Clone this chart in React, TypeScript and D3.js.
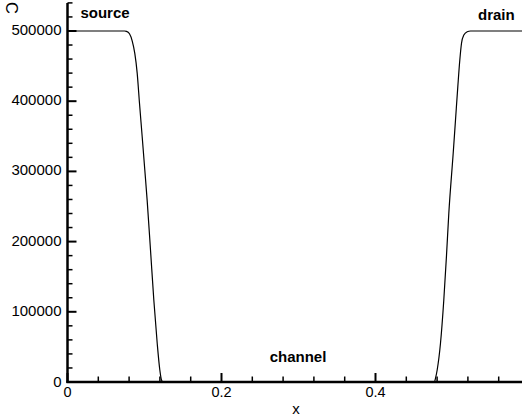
import React from "react";
import * as d3 from "d3";

const xValues = [
  0, 0.074, 0.0766, 0.0805, 0.084, 0.0874, 0.0905, 0.0935, 0.097, 0.1004, 0.1035,
  0.1078, 0.1121, 0.1165, 0.1199, 0.1221, 0.124,
  0.3, 0.475,
  0.4766, 0.4779, 0.4801, 0.4844, 0.4887, 0.4922, 0.4952, 0.5009, 0.5039, 0.5069,
  0.5095, 0.5117, 0.5147, 0.5191, 0.5234, 0.6,
];
const cValues = [
  500000, 500000, 499500, 496000, 486000, 468000, 440000, 397000, 349400, 302000, 258000,
  188000, 116800, 55100, 17100, 2800, 0,
  0, 0,
  400, 5300, 17100, 55100, 116800, 180000, 240000, 325800, 373200, 420700,
  458700, 482500, 494300, 499000, 500000, 500000,
];

const xMajorTicks = [0, 0.2, 0.4, 0.6];
const xTickLabels = ["0", "0.2", "0.4", ""];
const yMajorTicks = [0, 100000, 200000, 300000, 400000, 500000];
const yTickLabels = ["0", "100000", "200000", "300000", "400000", "500000"];

const regionLabels = ["source", "channel", "drain"];
const regionX = [0.0487, 0.2994, 0.557];
const regionC = [519000, 28000, 515000];

const W = 522;
const H = 416;
const FONT = "'Liberation Sans', Arial, Helvetica, sans-serif";

export default function App() {
  const x = d3.scaleLinear().domain([0, 0.6]).range([67.5, 529.5]);
  const y = d3.scaleLinear().domain([0, 540000]).range([382, 2.9]);

  const line = d3
    .line<number>()
    .x((_, i) => x(xValues[i]))
    .y((d) => y(d))
    .curve(d3.curveMonotoneX);

  const xMinor = d3.range(0, 0.6001, 0.04).filter(
    (v) => !xMajorTicks.some((m) => Math.abs(m - v) < 1e-6)
  );
  const yMinor = d3.range(0, 540001, 20000).filter((v) => v % 100000 !== 0);

  const x0 = x(0);
  const y0 = y(0);

  return (
    <svg
      width={W}
      height={H}
      style={{ position: "absolute", left: 0, top: 0, background: "#fff" }}
      fontFamily={FONT}
    >
      <rect x={0} y={0} width={W} height={H} fill="#fff" />
      {/* curve */}
      <path d={line(cValues) || ""} fill="none" stroke="#000" strokeWidth={1.2} />

      {/* y axis */}
      <line x1={x0} x2={x0} y1={y0 + 1} y2={y(540000)} stroke="#000" strokeWidth={2.5} />
      {yMajorTicks.map((v) => (
        <line key={"ym" + v} x1={x0} x2={x0 + 9} y1={y(v)} y2={y(v)} stroke="#000" strokeWidth={2} />
      ))}
      {yMinor.map((v) => (
        <line key={"yn" + v} x1={x0} x2={x0 + 5} y1={y(v)} y2={y(v)} stroke="#000" strokeWidth={1.5} />
      ))}
      {yMajorTicks.map((v, i) => (
        <text
          key={"yl" + v}
          x={x0 - 6}
          y={y(v) + (v === 0 ? 1 : 0)}
          textAnchor="end"
          dominantBaseline="middle"
          fontSize={15}
          fill="#000"
        >
          {yTickLabels[i]}
        </text>
      ))}

      {/* x axis */}
      <line x1={x0 - 1} x2={W} y1={y0} y2={y0} stroke="#000" strokeWidth={2.5} />
      {xMajorTicks.map((v) => (
        <line key={"xm" + v} x1={x(v)} x2={x(v)} y1={y0} y2={y0 - 9} stroke="#000" strokeWidth={2} />
      ))}
      {xMinor.map((v) => (
        <line key={"xn" + v} x1={x(v)} x2={x(v)} y1={y0} y2={y0 - 5.5} stroke="#000" strokeWidth={1.5} />
      ))}
      {xMajorTicks.map((v, i) =>
        xTickLabels[i] ? (
          <text key={"xl" + v} x={x(v)} y={y0 + 15} textAnchor="middle" fontSize={14.5} fill="#000">
            {xTickLabels[i]}
          </text>
        ) : null
      )}

      {/* axis titles */}
      <text x={296} y={414} textAnchor="middle" fontSize={15} fill="#000">
        x
      </text>
      <text
        transform="translate(10,8) rotate(90)"
        textAnchor="middle"
        dominantBaseline="middle"
        fontSize={16.5}
        fill="#000"
      >
        C
      </text>

      {/* region labels */}
      {regionLabels.map((t, i) => (
        <text
          key={t}
          x={x(regionX[i])}
          y={y(regionC[i])}
          textAnchor="middle"
          fontSize={15}
          fontWeight="bold"
          fill="#000"
        >
          {t}
        </text>
      ))}
    </svg>
  );
}
